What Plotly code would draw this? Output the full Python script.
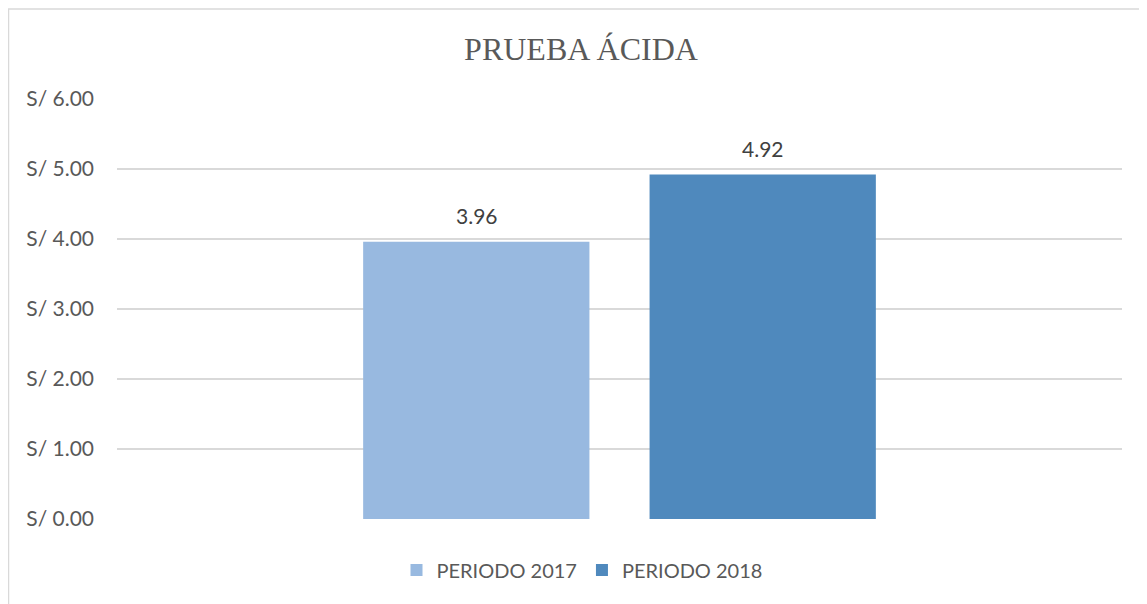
import plotly.graph_objects as go

# datos
categoria = ["PRUEBA ÁCIDA"]
series = ["PERIODO 2017", "PERIODO 2018"]
valores = [3.96, 4.92]
colores = ["#98B9E0", "#4F89BD"]
ticks_y = [0, 1, 2, 3, 4, 5, 6]
ticks_txt = ["S/ %.2f" % t for t in ticks_y]

fig = go.Figure()
for nombre, v, c in zip(series, valores, colores):
    fig.add_trace(go.Bar(x=categoria, y=[v], name=nombre, marker_color=c,
                         marker_line_width=0))

# etiquetas de datos sobre cada barra
desplaz = [-143, 143]
for v, dx in zip(valores, desplaz):
    fig.add_annotation(x=categoria[0], y=v, text="%.2f" % v, showarrow=False,
                       xshift=dx, yshift=26, yanchor="middle",
                       font=dict(family="Lato", size=21, color="#404040"))

# borde del area del grafico
fig.add_shape(type="rect", xref="paper", yref="paper",
              x0=(8.5 - 117) / 1005, x1=(1146 - 117) / 1005,
              y0=(519 - 610) / 420, y1=(519 - 9) / 420,
              line=dict(color="#D9D9D9", width=1.5), layer="below")

# la pagina tiene 8px de margen, por eso 1139x596
fig.update_layout(
    width=1139, height=596,
    margin=dict(l=109, r=25, t=91, b=85),
    paper_bgcolor="white", plot_bgcolor="white",
    barmode="group", bargap=0.43, bargroupgap=0.21,
    title=dict(text="PRUEBA ÁCIDA", x=573 / 1139, xanchor="center",
               y=1 - 41 / 596, yanchor="middle",
               font=dict(family="Liberation Serif", size=32, color="#595959")),
    xaxis=dict(showticklabels=False, showgrid=False, showline=False,
               zeroline=False),
    yaxis=dict(range=[0, 6], tickvals=ticks_y, ticktext=ticks_txt,
               gridcolor="#D9D9D9", gridwidth=1.5, zeroline=False,
               showline=False, ticks="", ticklabelstandoff=22,
               tickfont=dict(family="Lato", size=21, color="#595959")),
    legend=dict(orientation="h", x=(582 - 117) / 1005, xanchor="center",
                y=(519 - 570) / 420, yanchor="middle",
                font=dict(family="Lato", size=20, color="#595959")),
    showlegend=True,
)

fig.write_html("out.html")
